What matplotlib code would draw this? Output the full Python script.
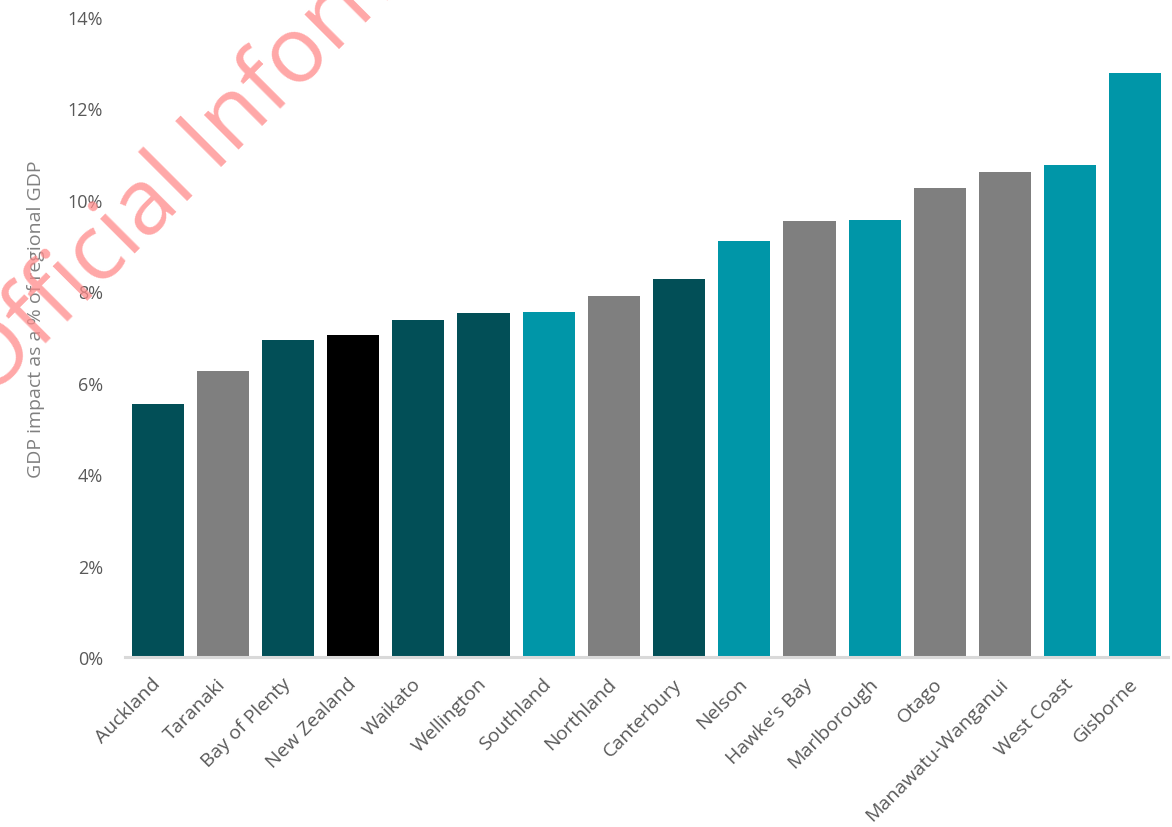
import matplotlib
matplotlib.use("Agg")
import matplotlib.pyplot as plt
from matplotlib.ticker import FuncFormatter

regions = ["Auckland", "Taranaki", "Bay of Plenty", "New Zealand", "Waikato",
           "Wellington", "Southland", "Northland", "Canterbury", "Nelson",
           "Hawke's Bay", "Marlborough", "Otago", "Manawatu-Wanganui",
           "West Coast", "Gisborne"]
gdp_impact = [5.54, 6.26, 6.94, 7.05, 7.37, 7.53, 7.55, 7.90, 8.27, 9.10,
              9.54, 9.56, 10.26, 10.61, 10.77, 12.78]
groups = ["dark", "grey", "dark", "nz", "dark", "dark", "teal", "grey", "dark",
          "teal", "grey", "teal", "grey", "grey", "teal", "teal"]
palette = {"dark": "#024F57", "teal": "#0096A8", "grey": "#7F7F7F", "nz": "#000000"}

plt.rcParams["font.family"] = ["Open Sans", "DejaVu Sans"]

W, H = 1172, 828
fig = plt.figure(figsize=(W / 100, H / 100), dpi=100)
ax = fig.add_axes([125 / W, 1 - 658 / H, (1168 - 125) / W, (658 - 18) / H])

x = range(len(regions))
ax.bar(x, gdp_impact, width=0.8, color=[palette[g] for g in groups],
       edgecolor="none", zorder=2)

ax.set_xlim(-0.5, len(regions) - 0.5)
ax.set_ylim(0, 14)
ax.set_yticks(range(0, 15, 2))
ax.yaxis.set_major_formatter(FuncFormatter(lambda v, _: f"{v:.0f}%"))
ax.set_xticks(list(x))
ax.set_xticklabels(regions, rotation=45, ha="right", va="center",
                   rotation_mode="anchor")

for s in ["top", "right", "left"]:
    ax.spines[s].set_visible(False)
ax.spines["bottom"].set_color("#D9D9D9")
ax.spines["bottom"].set_linewidth(2.2)
ax.tick_params(axis="both", length=0, colors="#595959")
ax.tick_params(axis="y", pad=16, labelsize=13)
ax.tick_params(axis="x", pad=17, labelsize=14)

ax.set_ylabel("GDP impact as a % of regional GDP", fontsize=14,
              color="#808080")
ax.yaxis.set_label_coords(-80 / (1168 - 125), 0.53)

# Watermark stamped across the top-left corner
fig.text(-12 / W, 1 - 400 / H, "Official Information", fontsize=66,
         color="#FF8A8A", alpha=0.75, rotation=45, rotation_mode="anchor",
         ha="left", va="baseline", zorder=10)

fig.savefig("out.png", dpi=100, facecolor="white")
